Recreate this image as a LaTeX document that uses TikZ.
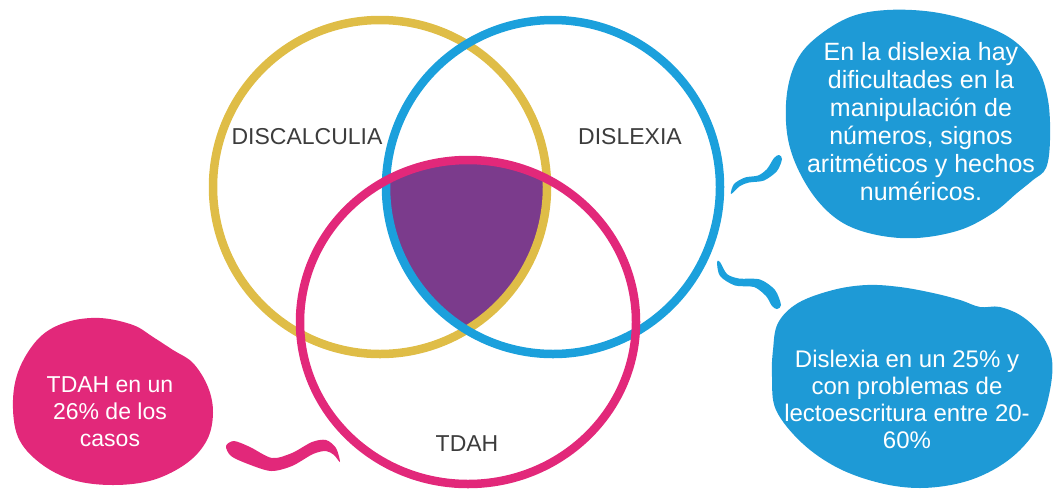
\documentclass[tikz,border=0pt]{standalone}
\usepackage{fontspec}
\setmainfont{Liberation Sans}
\definecolor{cyel}{HTML}{DFBD47}
\definecolor{cblue}{HTML}{1BA0DC}
\definecolor{cbub}{HTML}{1E9AD6}
\definecolor{cpink}{HTML}{E2287A}
\definecolor{cpurp}{HTML}{7B3B8C}
\definecolor{ctext}{HTML}{3C3C3C}
\begin{document}
\begin{tikzpicture}[x=1pt,y=-1pt,
  ring/.style={line width=8.5pt},
  lab/.style={text=ctext,font=\fontsize{23}{27}\selectfont},
  btext/.style={text=white,align=center,font=\fontsize{25}{28}\selectfont},
  ptext/.style={text=white,align=center,font=\fontsize{23}{27}\selectfont},
  blob/.style={smooth cycle,tension=0.6}]
\useasboundingbox (0,0) rectangle (1054,499);
\coordinate (cy) at (380,187);
\coordinate (cb) at (553,187);
\coordinate (cp) at (468,322);
% purple intersection
\begin{scope}
  \clip (cy) circle[radius=167pt];
  \clip (cb) circle[radius=167pt];
  \fill[cpurp] (cp) ellipse[x radius=168pt,y radius=162pt];
\end{scope}
\draw[ring,cyel] (cy) circle[radius=167pt];
\draw[ring,cblue] (cb) circle[radius=167pt];
\draw[ring,cpink] (cp) ellipse[x radius=168pt,y radius=162pt];
% labels
\node[lab] (ldisc) at (307,137) {DISCALCULIA};
\node[lab] (ldisl) at (630,137) {DISLEXIA};
\node[lab] (ltdah) at (467,444) {TDAH};
% bubble 1
\fill[cbub] plot[blob] coordinates {(817,37) (850,17) (887,10) (933,12) (977,23) (1013,40) (1037,67) (1048,100) (1050,140) (1046,168) (1033,180) (1017,193) (993,213) (960,230) (917,238) (877,235) (843,223) (817,200) (797,167) (787,133) (787,93) (797,60)};
% bubble 2
\fill[cbub] plot[blob] coordinates {(778,323) (798,303) (833,290) (867,285) (900,287) (933,293) (960,300) (980,307) (1000,307) (1023,317) (1043,337) (1052,360) (1050,390) (1040,423) (1020,450) (993,470) (960,483) (920,488) (880,483) (838,468) (802,443) (776,410) (772,377) (773,350)};
% bubble 3
\fill[cpink] plot[blob] coordinates {(13,400) (20,367) (40,337) (67,322) (100,318) (133,325) (153,337) (173,350) (193,363) (208,387) (213,413) (207,440) (187,463) (153,480) (113,485) (73,480) (40,463) (18,437)};
% tails
\fill[cblue] plot[smooth cycle,tension=0.5] coordinates {(731,194) (734,184) (745,177.5) (758,175.5) (767,169) (774,158) (779,155) (782,159) (777,171) (764,180.5) (749,182.5) (740,186)};
\fill[cblue] plot[smooth cycle,tension=0.5] coordinates {(717,262) (720,276) (735,285.5) (754,287) (766,296) (772,306) (777,309) (781,305) (775,290) (760,279.5) (739,278.5) (727,274) (720,262)};
\fill[cpink] plot[smooth cycle,tension=0.5] coordinates {(226,446) (234,441) (250,447) (272,458) (292,453) (312,442) (326,440) (336,448) (340,462) (334,455) (326,451) (313,454) (292,466) (271,471) (248,464) (231,456)};
% bubble texts
\node[btext] (t1) at (921,122) {En la dislexia hay\\dificultades en la\\manipulación de\\números, signos\\aritméticos y hechos\\numéricos.};
\node[btext,font=\fontsize{24}{27}\selectfont] (t2) at (907,399) {Dislexia en un 25\% y\\con problemas de\\lectoescritura entre 20-\\60\%};
\node[ptext] (t3) at (110,412) {TDAH en un\\26\% de los\\casos};
\end{tikzpicture}
\end{document}
